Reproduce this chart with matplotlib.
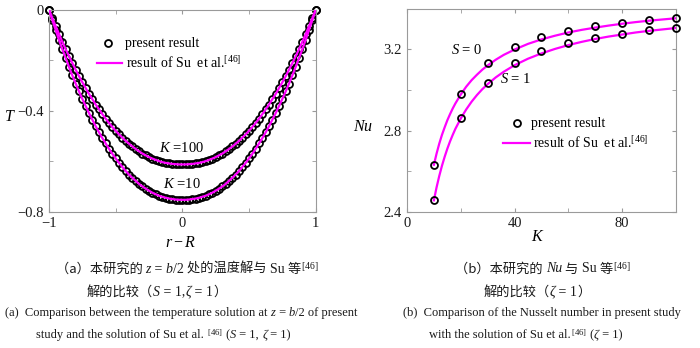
import matplotlib
matplotlib.use("Agg")

import numpy as np
import matplotlib.pyplot as plt
from matplotlib.offsetbox import TextArea, HPacker, AnnotationBbox

# ---- data: (a) temperature profile at z = b/2 ----
r_minus_R = np.linspace(-1, 1, 81)
T_K10 = [0.000, -0.041, -0.080, -0.119, -0.156, -0.191, -0.226, -0.260, -0.292, -0.323,
         -0.353, -0.381, -0.409, -0.435, -0.461, -0.485, -0.508, -0.529, -0.550, -0.570,
         -0.588, -0.606, -0.622, -0.638, -0.652, -0.665, -0.677, -0.689, -0.699, -0.708,
         -0.716, -0.724, -0.730, -0.736, -0.740, -0.744, -0.747, -0.749, -0.751, -0.752,
         -0.752,
         -0.752, -0.751, -0.749, -0.747, -0.744, -0.740, -0.736, -0.730, -0.724, -0.716,
         -0.708, -0.699, -0.689, -0.677, -0.665, -0.652, -0.638, -0.622, -0.606, -0.588,
         -0.570, -0.550, -0.529, -0.508, -0.485, -0.461, -0.435, -0.409, -0.381, -0.353,
         -0.323, -0.292, -0.260, -0.226, -0.191, -0.156, -0.119, -0.080, -0.041, 0.000]
T_K100 = [0.000, -0.033, -0.065, -0.096, -0.127, -0.156, -0.184, -0.211, -0.237, -0.263,
          -0.287, -0.310, -0.333, -0.354, -0.375, -0.394, -0.413, -0.431, -0.448, -0.464,
          -0.479, -0.493, -0.506, -0.519, -0.530, -0.541, -0.551, -0.560, -0.569, -0.576,
          -0.583, -0.589, -0.594, -0.599, -0.603, -0.606, -0.608, -0.610, -0.611, -0.612,
          -0.612,
          -0.612, -0.611, -0.610, -0.608, -0.606, -0.603, -0.599, -0.594, -0.589, -0.583,
          -0.576, -0.569, -0.560, -0.551, -0.541, -0.530, -0.519, -0.506, -0.493, -0.479,
          -0.464, -0.448, -0.431, -0.413, -0.394, -0.375, -0.354, -0.333, -0.310, -0.287,
          -0.263, -0.237, -0.211, -0.184, -0.156, -0.127, -0.096, -0.065, -0.033, 0.000]

# ---- data: (b) Nusselt number vs K ----
K_pts = [10, 20, 30, 40, 50, 60, 70, 80, 90, 100]
Nu_S0_pts = [2.632, 2.978, 3.131, 3.210, 3.259, 3.292, 3.315, 3.332, 3.343, 3.353]
Nu_S1_pts = [2.457, 2.860, 3.033, 3.134, 3.192, 3.230, 3.258, 3.277, 3.294, 3.305]

K_line = [10, 11, 12, 13, 14, 15, 16, 17, 18, 20, 22, 24, 26, 28, 30,
          33, 36, 40, 45, 50, 55, 60, 65, 70, 75, 80, 85, 90, 95, 100]
Nu_S0_line = [2.632, 2.687, 2.736, 2.779, 2.816, 2.851, 2.881, 2.909, 2.934, 2.978,
              3.016, 3.048, 3.075, 3.100, 3.121, 3.149, 3.173, 3.199, 3.227, 3.249,
              3.267, 3.283, 3.296, 3.307, 3.317, 3.326, 3.334, 3.341, 3.347, 3.353]
Nu_S1_line = [2.457, 2.521, 2.577, 2.627, 2.671, 2.711, 2.747, 2.779, 2.809, 2.860,
              2.904, 2.942, 2.975, 3.004, 3.029, 3.062, 3.090, 3.122, 3.154, 3.180,
              3.202, 3.221, 3.237, 3.251, 3.263, 3.273, 3.283, 3.291, 3.298, 3.305]

MAGENTA = '#ff00ff'
SPINE = '#9a9a9a'
SERIF = 'Liberation Serif'
CJK = 'Noto Sans CJK SC'

plt.rcParams['font.family'] = SERIF
plt.rcParams['mathtext.fontset'] = 'custom'
plt.rcParams['mathtext.rm'] = SERIF
plt.rcParams['mathtext.it'] = SERIF + ':italic'
plt.rcParams['mathtext.default'] = 'it'


def style_axes(ax):
    for s in ax.spines.values():
        s.set_color(SPINE)
        s.set_linewidth(0.8)
    ax.tick_params(which='both', direction='in', top=True, right=True,
                   color=SPINE, labelsize=10.5, labelcolor='#1a1a1a', length=3, pad=4)
    ax.tick_params(which='minor', length=3)


def mark(ax, x, y):
    ax.plot(x, y, linestyle='none', marker='o', markersize=5, markerfacecolor='none',
            markeredgecolor='black', markeredgewidth=1.3, zorder=2, clip_on=False)


fig = plt.figure(figsize=(7.0, 3.48), dpi=100)

# ---- left panel ----
ax1 = fig.add_axes([0.070, 0.391, 0.381, 0.581])
mark(ax1, r_minus_R, T_K10)
mark(ax1, r_minus_R, T_K100)
ax1.plot(r_minus_R, T_K10, color=MAGENTA, lw=1.6, zorder=3)
ax1.plot(r_minus_R, T_K100, color=MAGENTA, lw=1.6, zorder=3)
ax1.set_xlim(-1, 1)
ax1.set_ylim(-0.8, 0)
ax1.set_xticks([-1, 0, 1])
ax1.set_xticklabels(['\u22121', '0', '1'])
ax1.set_xticks([-0.5, 0.5], minor=True)
ax1.set_yticks([-0.8, -0.4, 0])
ax1.set_yticklabels(['\u22120.8', '\u22120.4', '0'])
ax1.set_yticks([-0.6, -0.2], minor=True)
style_axes(ax1)
fig.text(182 / 700, 1 - 148 / 348, '$K$ =100', fontsize=10.5, ha='center', va='center')
fig.text(182 / 700, 1 - 184 / 348, '$K$ =10', fontsize=10.5, ha='center', va='center')
fig.text(10 / 700, 1 - 117 / 348, '$T$', fontsize=11.5, ha='center', va='center')
fig.text(181 / 700, 1 - 243 / 348, '$r\u2212R$', fontsize=11.5, ha='center', va='center')

# legend (a)
ax1.plot([108 / 700], [1 - 43 / 348], transform=fig.transFigure, marker='o', markersize=5,
         markerfacecolor='none', markeredgecolor='black', markeredgewidth=1.3, clip_on=False)
fig.text(125 / 700, 1 - 43 / 348, 'present result', fontsize=10, va='center')
ax1.plot([97 / 700, 122 / 700], [1 - 63 / 348] * 2, transform=fig.transFigure,
         color=MAGENTA, lw=1.6, clip_on=False)
fig.text(126 / 700, 1 - 63 / 348, 'result of Su  et al.$\\mathrm{^{[46]}}$', fontsize=10, va='center')

# ---- right panel ----
ax2 = fig.add_axes([0.5814, 0.391, 0.3843, 0.584])
ax2.plot(K_line, Nu_S0_line, color=MAGENTA, lw=1.6, zorder=2)
ax2.plot(K_line, Nu_S1_line, color=MAGENTA, lw=1.6, zorder=2)
mark(ax2, K_pts, Nu_S0_pts)
mark(ax2, K_pts, Nu_S1_pts)
for ln in ax2.lines[2:]:
    ln.set_zorder(3)
ax2.set_xlim(0, 100)
ax2.set_ylim(2.4, 3.4)
ax2.set_xticks([0, 40, 80])
ax2.set_xticks([20, 60, 100], minor=True)
ax2.set_yticks([2.4, 2.8, 3.2])
ax2.set_yticks([2.6, 3.0], minor=True)
style_axes(ax2)
fig.text(467 / 700, 1 - 50 / 348, '$S$ = 0', fontsize=10.5, ha='center', va='center')
fig.text(516 / 700, 1 - 79 / 348, '$S$ = 1', fontsize=10.5, ha='center', va='center')
fig.text(363 / 700, 1 - 127 / 348, '$Nu$', fontsize=11.5, ha='center', va='center')
fig.text(538 / 700, 1 - 237 / 348, '$K$', fontsize=11.5, ha='center', va='center')

# legend (b)
ax2.plot([517 / 700], [1 - 123 / 348], transform=fig.transFigure, marker='o', markersize=5,
         markerfacecolor='none', markeredgecolor='black', markeredgewidth=1.3, clip_on=False)
fig.text(531 / 700, 1 - 123 / 348, 'present result', fontsize=10, va='center')
ax2.plot([503 / 700, 530 / 700], [1 - 143 / 348] * 2, transform=fig.transFigure,
         color=MAGENTA, lw=1.6, clip_on=False)
fig.text(533 / 700, 1 - 143 / 348, 'result of Su  et al.$\\mathrm{^{[46]}}$', fontsize=10, va='center')

# ---- captions ----
cjk = dict(family=[CJK], size=9.5, color='#1a1a1a')
rm_c = dict(family=SERIF, size=10, color='#1a1a1a')
it_c = dict(family=SERIF, style='italic', size=10, color='#1a1a1a')
rm = dict(family=SERIF, size=9, color='#1a1a1a')
it = dict(family=SERIF, style='italic', size=9, color='#1a1a1a')


def caption(x, y, pieces, halign=0.5):
    boxes = [TextArea(s, textprops=p) for s, p in pieces]
    pack = HPacker(children=boxes, align='baseline', pad=0, sep=0)
    ab = AnnotationBbox(pack, (x / 700, 1 - y / 348), xycoords='figure fraction',
                        box_alignment=(halign, 0.5), frameon=False, pad=0)
    fig.add_artist(ab)


caption(187, 269, [('（a）本研究的 ', cjk), ('z', it_c), (' = ', rm_c), ('b', it_c), ('/2 ', rm_c),
                   ('处的温度解与 ', cjk), ('Su ', rm_c), ('等', cjk), ('$\\mathrm{^{[46]}}$', rm_c)])
caption(87, 292, [('解的比较（', cjk), ('S', it_c), (' = 1,', rm_c), ('\u03b6', it_c), (' = 1', rm_c),
                  ('）', cjk)], halign=0)
caption(5, 313, [('(a)  Comparison between the temperature solution at ', rm), ('z', it),
                 (' = ', rm), ('b', it), ('/2 of present', rm)], halign=0)
caption(36, 335, [('study and the solution of Su et al. ', rm), ('$\\mathrm{^{[46]}}$', rm),
                  (' (', rm), ('S', it), (' = 1, ', rm), ('\u03b6', it), (' = 1)', rm)], halign=0)

caption(543, 269, [('（b）本研究的 ', cjk), ('Nu', it_c), (' 与 ', cjk), ('Su ', rm_c), ('等', cjk),
                   ('$\\mathrm{^{[46]}}$', rm_c)])
caption(537, 292, [('解的比较（', cjk), ('\u03b6', it_c), (' = 1', rm_c), ('）', cjk)])
caption(403, 313, [('(b)  Comparison of the Nusselt number in present study', rm)], halign=0)
caption(429, 335, [('with the solution of Su et al.', rm), ('$\\mathrm{^{[46]}}$', rm),
                   (' (', rm), ('\u03b6', it), (' = 1)', rm)], halign=0)

fig.savefig('out.png', dpi=100, facecolor='white')
